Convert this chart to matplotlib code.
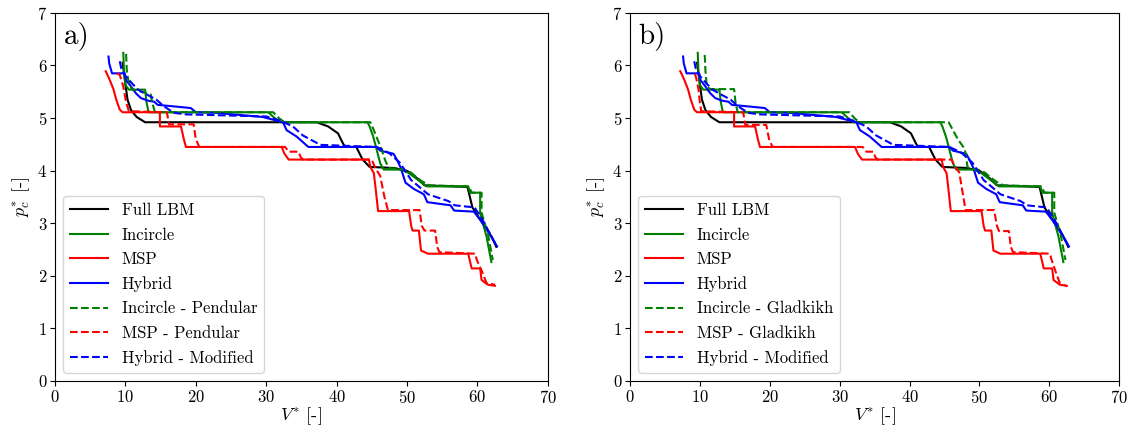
import numpy as np
import matplotlib
matplotlib.use("Agg")
import matplotlib.pyplot as plt

plt.rcParams['font.family'] = ['cmr10', 'DejaVu Serif']
plt.rcParams['mathtext.fontset'] = 'cm'
plt.rcParams['axes.formatter.use_mathtext'] = True

# ---- data ----
# shared curves (same in both panels)
lbm_x = [9.6, 9.9, 10.3, 10.8, 11.6, 12.8, 37.2, 38.8, 40.2, 40.9, 41.2, 42.8, 43.7, 44.7,
         48.2, 50.1, 51.5, 52.5, 58.6, 59.3, 60.0, 61.0, 62.0, 62.7]
lbm_y = [6.05, 5.75, 5.35, 5.15, 5.02, 4.92, 4.92, 4.84, 4.71, 4.52, 4.45, 4.45, 4.21, 4.07,
         4.05, 3.99, 3.85, 3.72, 3.69, 3.30, 3.15, 2.95, 2.75, 2.55]

inc_x = [9.7, 9.8, 10.0, 10.5, 12.8, 13.0, 13.3, 30.3, 31.2, 32.0, 44.4, 44.7, 45.2, 45.6,
         46.2, 46.7, 49.2, 50.3, 51.0, 51.8, 52.8, 58.7, 59.0, 60.4, 60.4, 61.3, 62.0]
inc_y = [6.24, 5.9, 5.63, 5.54, 5.54, 5.3, 5.11, 5.11, 5.0, 4.92, 4.92, 4.84, 4.65, 4.45,
         4.14, 4.02, 4.02, 3.95, 3.88, 3.80, 3.70, 3.70, 3.58, 3.58, 3.19, 2.75, 2.26]

msp_x = [7.2, 7.7, 8.3, 8.7, 9.2, 9.6, 14.9, 14.9, 17.9, 18.3, 18.6, 32.2, 32.6, 33.2, 44.6,
         44.8, 45.3, 45.6, 45.9, 50.3, 50.6, 50.8, 51.7, 52.0, 53.0, 58.7, 59.2, 60.4, 60.6,
         61.5, 62.5]
msp_y = [5.89, 5.75, 5.55, 5.35, 5.16, 5.11, 5.11, 4.84, 4.84, 4.6, 4.45, 4.45, 4.32, 4.21,
         4.21, 4.07, 3.95, 3.6, 3.23, 3.23, 2.95, 2.86, 2.86, 2.48, 2.42, 2.42, 2.14, 2.14,
         1.92, 1.83, 1.81]

hyb_x = [7.6, 7.7, 8.1, 9.9, 10.1, 10.8, 11.5, 12.2, 13.2, 14.1, 14.6, 17.0, 19.3, 20.0,
         22.7, 29.5, 31.5, 32.4, 32.9, 34.3, 36.0, 45.7, 46.2, 48.1, 48.6, 49.1, 49.8, 51.0,
         52.4, 52.9, 56.2, 56.7, 59.5, 60.5, 61.5, 62.8]
hyb_y = [6.17, 6.04, 5.85, 5.85, 5.72, 5.6, 5.47, 5.38, 5.33, 5.31, 5.25, 5.22, 5.19, 5.11,
         5.1, 5.02, 4.95, 4.92, 4.77, 4.65, 4.45, 4.45, 4.38, 4.32, 4.2, 4.06, 3.77, 3.65,
         3.55, 3.4, 3.34, 3.24, 3.22, 3.05, 2.85, 2.56]

hybmod_x = [9.2, 9.4, 10.0, 11.0, 11.8, 13.0, 14.4, 15.5, 16.9, 18.5, 30.0, 32.0, 33.8, 35.2,
            37.7, 45.7, 46.5, 47.5, 49.0, 50.6, 51.5, 53.0, 55.9, 56.8, 59.6, 60.6, 61.6, 62.6]
hybmod_y = [6.08, 5.95, 5.8, 5.65, 5.54, 5.45, 5.35, 5.22, 5.1, 5.07, 5.03, 4.95, 4.84, 4.67,
            4.49, 4.45, 4.4, 4.33, 4.15, 3.82, 3.72, 3.55, 3.42, 3.34, 3.3, 3.1, 2.85, 2.6]

# panel a dashed variants (Pendular)
incpen_x = [10.1, 10.2, 10.4, 10.9, 13.6, 13.8, 14.2, 31.0, 31.8, 32.6, 44.8, 45.2, 45.8,
            46.4, 46.9, 47.4, 49.5, 50.6, 51.3, 52.1, 53.2, 58.8, 59.2, 60.6, 60.6, 61.5, 62.2]
incpen_y = [6.22, 5.9, 5.73, 5.55, 5.45, 5.3, 5.11, 5.11, 5.0, 4.92, 4.92, 4.8, 4.6, 4.4,
            4.2, 4.05, 4.02, 3.96, 3.88, 3.8, 3.72, 3.70, 3.58, 3.58, 3.2, 2.8, 2.3]

msppen_x = [8.8, 9.2, 9.7, 10.1, 10.5, 15.9, 16.2, 19.7, 20.0, 20.5, 32.7, 33.2, 34.6, 34.9,
            35.2, 45.0, 45.5, 46.2, 46.8, 47.3, 51.8, 52.1, 52.5, 54.0, 54.3, 54.6, 59.7,
            59.9, 60.8, 61.3, 62.5]
msppen_y = [5.85, 5.82, 5.6, 5.3, 5.13, 5.11, 4.88, 4.88, 4.6, 4.45, 4.45, 4.36, 4.36, 4.26,
            4.21, 4.21, 4.05, 3.9, 3.5, 3.25, 3.25, 2.95, 2.86, 2.86, 2.55, 2.45, 2.42, 2.31,
            2.04, 1.86, 1.83]

# panel b dashed variants (Gladkikh)
incgla_x = [10.7, 10.8, 11.0, 11.5, 14.9, 15.1, 15.4, 31.4, 32.1, 32.8, 45.6, 46.2, 46.9,
            47.9, 48.3, 48.8, 49.8, 50.8, 51.5, 52.3, 53.4, 58.9, 59.3, 60.7, 60.7, 61.6, 62.3]
incgla_y = [6.2, 5.9, 5.6, 5.55, 5.55, 5.3, 5.11, 5.11, 5.0, 4.92, 4.92, 4.77, 4.6, 4.41,
            4.07, 4.03, 4.02, 3.96, 3.88, 3.8, 3.72, 3.70, 3.58, 3.58, 3.2, 2.8, 2.3]

mspgla_x = [9.3, 9.5, 9.8, 10.0, 10.2, 16.2, 16.5, 19.5, 19.9, 20.4, 33.3, 33.8, 34.8, 35.1,
            35.4, 46.0, 46.6, 47.1, 47.7, 48.0, 52.1, 52.5, 52.8, 54.2, 54.5, 54.8, 60.1,
            60.3, 61.0, 61.5, 62.5]
mspgla_y = [5.84, 5.75, 5.55, 5.3, 5.13, 5.11, 4.87, 4.87, 4.6, 4.45, 4.45, 4.36, 4.36, 4.26,
            4.21, 4.21, 4.05, 3.97, 3.5, 3.25, 3.25, 2.95, 2.85, 2.85, 2.55, 2.45, 2.42, 2.31,
            2.04, 1.86, 1.8]

labels_a = ['Full LBM', 'Incircle', 'MSP', 'Hybrid',
            'Incircle - Pendular', 'MSP - Pendular', 'Hybrid - Modified']
labels_b = ['Full LBM', 'Incircle', 'MSP', 'Hybrid',
            'Incircle - Gladkikh', 'MSP - Gladkikh', 'Hybrid - Modified']

fig = plt.figure(figsize=(11.34, 4.29), dpi=100)
ax1 = fig.add_axes([0.0485, 0.112, 0.4345, 0.858])
ax2 = fig.add_axes([0.5555, 0.112, 0.4315, 0.858])


def draw(ax, dashed_inc, dashed_msp, labels, tag):
    lw = 1.5
    ax.plot(lbm_x, lbm_y, color='black', lw=lw, label=labels[0])
    ax.plot(inc_x, inc_y, color='green', lw=lw, label=labels[1])
    ax.plot(msp_x, msp_y, color='red', lw=lw, label=labels[2])
    ax.plot(hyb_x, hyb_y, color='blue', lw=lw, label=labels[3])
    ax.plot(dashed_inc[0], dashed_inc[1], color='green', lw=lw, ls='--', label=labels[4])
    ax.plot(dashed_msp[0], dashed_msp[1], color='red', lw=lw, ls='--', label=labels[5])
    ax.plot(hybmod_x, hybmod_y, color='blue', lw=lw, ls='--', label=labels[6])
    ax.set_xlim(0, 70)
    ax.set_ylim(0, 7)
    ax.set_xticks(np.arange(0, 71, 10))
    ax.set_yticks(np.arange(0, 8, 1))
    ax.tick_params(labelsize=12, pad=2)
    ax.set_xlabel(r'$V^{*}$ [-]', fontsize=13, labelpad=0)
    ax.set_ylabel(r'$p_c^{*}$ [-]', fontsize=13, labelpad=4)
    ax.text(0.018, 0.975, tag, transform=ax.transAxes, fontsize=21, va='top', ha='left')
    ax.legend(loc='lower left', fontsize=12, handlelength=2.3, labelspacing=0.55,
              borderaxespad=0.5, framealpha=0.8)


draw(ax1, (incpen_x, incpen_y), (msppen_x, msppen_y), labels_a, 'a)')
draw(ax2, (incgla_x, incgla_y), (mspgla_x, mspgla_y), labels_b, 'b)')

fig.savefig('out.png', dpi=100)
